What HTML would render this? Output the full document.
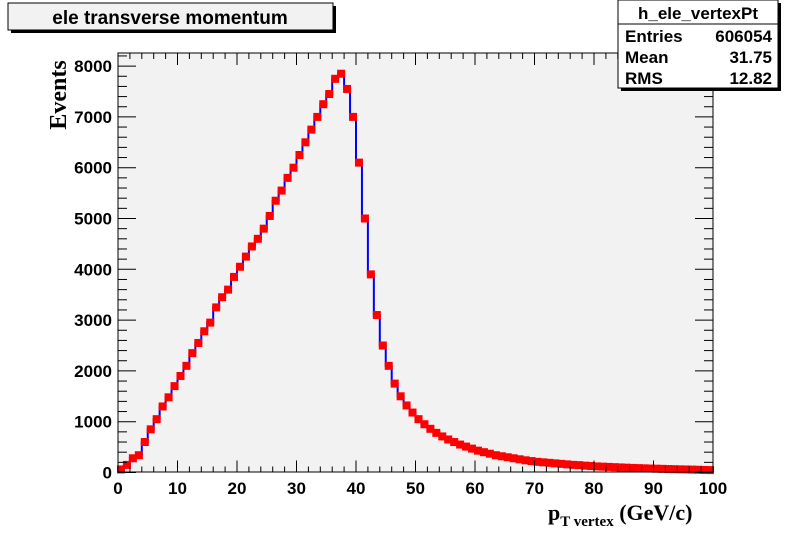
<!DOCTYPE html>
<html><head><meta charset="utf-8"><style>
body{margin:0;background:#fff;width:792px;height:544px;overflow:hidden}
svg{display:block}
</style></head><body>
<svg id="c" width="792" height="544" xmlns="http://www.w3.org/2000/svg">
<rect x="118" y="53" width="595" height="419" fill="#f2f2f2"/>
<g id="marks"></g>
<rect x="118" y="53" width="595" height="419" fill="none" stroke="#000" stroke-width="1"/>
<g id="axes"></g>
<g>
<rect x="11" y="6" width="325" height="27" fill="#000"/>
<rect x="8" y="3" width="325" height="27" fill="#f2f2f2" stroke="#000"/>
<text x="170" y="24" text-anchor="middle" font-family="Liberation Sans, sans-serif" font-weight="bold" font-size="19">ele transverse momentum</text>
</g>
<g font-family="Liberation Sans, sans-serif" font-weight="bold" font-size="17">
<rect x="621" y="3" width="160" height="88" fill="#000"/>
<rect x="618" y="0" width="160" height="88" fill="#fff" stroke="#000"/>
<line x1="618" y1="24" x2="778" y2="24" stroke="#000"/>
<text x="698" y="19" text-anchor="middle">h_ele_vertexPt</text>
<text x="625" y="42">Entries</text><text x="772" y="42" text-anchor="end">606054</text>
<text x="625" y="63">Mean</text><text x="772" y="63" text-anchor="end">31.75</text>
<text x="625" y="84">RMS</text><text x="772" y="84" text-anchor="end">12.82</text>
</g>
<text transform="translate(66,95) rotate(-90)" text-anchor="middle" font-family="Liberation Serif, serif" font-weight="bold" font-size="24">Events</text>
<text x="548" y="520" font-family="Liberation Serif, serif" font-weight="bold" font-size="22">p<tspan font-size="15" dy="6">T vertex</tspan><tspan dy="-6"> (GeV/c)</tspan></text>
</svg>
<script>
const binWidth = 1;
const counts = [60,150,280,340,600,850,1050,1300,1480,1700,1900,2100,2350,2550,2780,2950,3250,3450,3600,3850,
4050,4250,4450,4600,4800,5050,5350,5550,5800,6000,6250,6500,6750,7000,7250,7450,7750,7850,7550,7000,
6100,5000,3900,3100,2500,2100,1750,1500,1320,1180,1050,950,860,780,710,650,600,550,510,470,
430,400,370,340,320,300,280,260,240,225,210,200,190,180,170,160,150,145,135,128,
120,115,110,105,100,95,90,86,82,78,75,72,68,65,62,60,57,54,50,47];
const xTicks = [0,10,20,30,40,50,60,70,80,90,100];
const yTicks = [0,1000,2000,3000,4000,5000,6000,7000,8000];
const X0=118,X1=713,Y0=472.5,Y1=53;
const xs=v=>X0+(v/100)*(X1-X0);
const ys=v=>Y0-v*(50.8/1000);
const NS='http://www.w3.org/2000/svg';
const marks=document.getElementById('marks'),axes=document.getElementById('axes');
function mk(t,a,p){const e=document.createElementNS(NS,t);for(const k in a)e.setAttribute(k,a[k]);p.appendChild(e);return e;}
let d='M'+xs(0)+','+ys(0);
counts.forEach((c,i)=>{d+=' L'+xs(i*binWidth)+','+ys(c)+' L'+xs((i+1)*binWidth)+','+ys(c);});
const line=mk('path',{d:d,fill:'none',stroke:'#0000ff','stroke-width':2},marks);


counts.forEach((c,i)=>{
 const cx=xs((i+0.5)*binWidth),cy=ys(c);
 const r=mk('rect',{x:cx-4,y:cy-4,width:8,height:8,fill:'#ff0000'},marks);
 
 
});
for(let v=0;v<=100;v+=2){const maj=v%10===0,L=maj?12:6;
 mk('line',{x1:xs(v),y1:Y0,x2:xs(v),y2:Y0-L,stroke:'#000'},axes);
 mk('line',{x1:xs(v),y1:Y1,x2:xs(v),y2:Y1+L,stroke:'#000'},axes);}
for(let v=0;v<=8200;v+=200){const maj=v%1000===0,L=maj?18:9;
 mk('line',{x1:X0,y1:ys(v),x2:X0+L,y2:ys(v),stroke:'#000'},axes);
 mk('line',{x1:X1,y1:ys(v),x2:X1-L,y2:ys(v),stroke:'#000'},axes);}
xTicks.forEach(v=>{const t=mk('text',{x:xs(v),y:494,'text-anchor':'middle','font-family':'Liberation Sans, sans-serif','font-weight':'bold','font-size':17},axes);t.textContent=v;
 
 });
yTicks.forEach(v=>{const t=mk('text',{x:112,y:ys(v)+6,'text-anchor':'end','font-family':'Liberation Sans, sans-serif','font-weight':'bold','font-size':17},axes);t.textContent=v;
 
 });
</script>
</body></html>
